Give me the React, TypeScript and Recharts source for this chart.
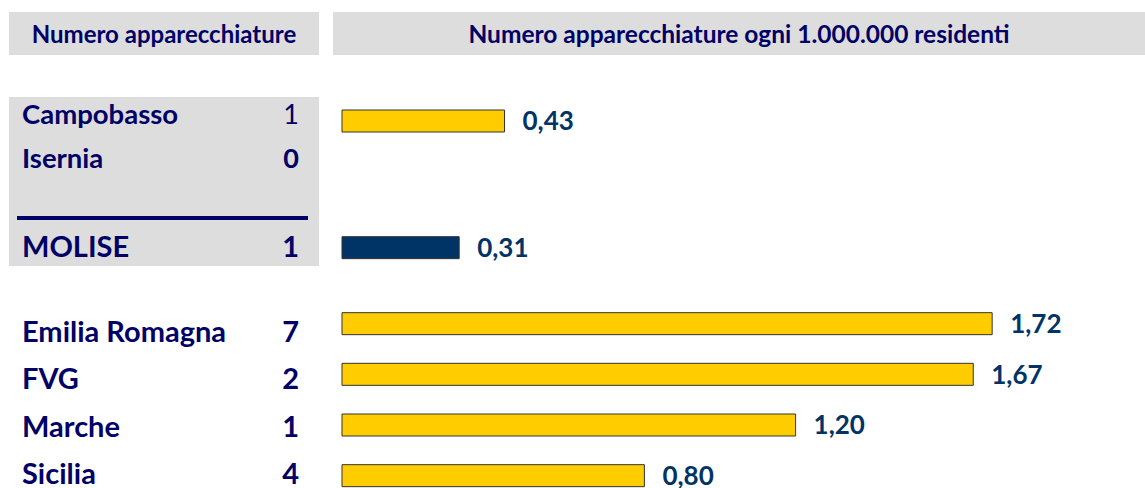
import { Bar, BarChart, Cell, LabelList, XAxis, YAxis } from "recharts"

// left table: regions and number of devices
const regions = ["Campobasso", "Isernia", "MOLISE", "Emilia Romagna", "FVG", "Marche", "Sicilia"]
const deviceCounts = [1, 0, 1, 7, 2, 1, 4]
// right chart: devices per 1,000,000 residents
const perMillion = [0.43, null, 0.31, 1.72, 1.67, 1.2, 0.8]
// order of the chart rows, "" = empty spacer row
const barRows = [
  "Campobasso", "", "Isernia", "", "", "MOLISE", "", "",
  "Emilia Romagna", "", "FVG", "", "Marche", "", "Sicilia",
]

const chartData = barRows.map((name, i) => ({
  key: String(i),
  name,
  value: name ? perMillion[regions.indexOf(name)] : null,
}))

const FONT = "Lato, 'Open Sans', sans-serif"
const NAVY = "#000066"
const BLUE = "#003366"
const GRAY = "#dddddd"

const labelTop = [113, 157, 245, 330, 377, 425, 472]

const fmt = (v: unknown) => (typeof v === "number" ? v.toFixed(2).replace(".", ",") : "")

export default function App() {
  return (
    <div
      style={{
        position: "absolute",
        left: 0,
        top: 0,
        width: 1145,
        height: 488,
        overflow: "hidden",
        background: "#fff",
        fontFamily: FONT,
      }}
    >
      {/* headers */}
      <div
        style={{
          position: "absolute", left: 9, top: 12, width: 310, height: 43,
          background: GRAY, color: NAVY, fontWeight: 700, fontSize: 24,
          display: "flex", alignItems: "center", justifyContent: "center",
        }}
      >
        Numero apparecchiature
      </div>
      <div
        style={{
          position: "absolute", left: 333, top: 12, width: 812, height: 43,
          background: GRAY, color: NAVY, fontWeight: 700, fontSize: 24.5,
          display: "flex", alignItems: "center", justifyContent: "center",
        }}
      >
        Numero apparecchiature ogni 1.000.000 residenti
      </div>

      {/* gray box for the province rows */}
      <div style={{ position: "absolute", left: 9, top: 97, width: 310, height: 169, background: GRAY }} />
      <div style={{ position: "absolute", left: 17, top: 216, width: 291, height: 4, background: NAVY }} />

      {regions.map((r, i) => (
        <div key={r}>
          <div
            style={{
              position: "absolute", left: 22, top: labelTop[i], transform: "translateY(-50%)",
              color: NAVY, fontWeight: 700, fontSize: i < 2 ? 27.5 : 29, whiteSpace: "nowrap",
            }}
          >
            {r}
          </div>
          <div
            style={{
              position: "absolute", right: 1145 - 299, top: labelTop[i], transform: "translateY(-50%)",
              color: NAVY, fontWeight: i === 0 ? 400 : 700, fontSize: i < 2 ? 27 : 29,
            }}
          >
            {deviceCounts[i]}
          </div>
        </div>
      ))}

      <div style={{ position: "absolute", left: 0, top: 0 }}>
        <BarChart
          width={1145}
          height={500}
          layout="vertical"
          data={chartData}
          margin={{ top: 108, right: 47, bottom: 12, left: 342 }}
        >
          <XAxis type="number" domain={[0, 2]} hide />
          <YAxis type="category" dataKey="key" hide />
          <Bar dataKey="value" barSize={22} stroke="#333333" strokeWidth={1} isAnimationActive={false}>
            {chartData.map((d) => (
              <Cell key={d.key} fill={d.name === "MOLISE" ? BLUE : "#ffcc00"} />
            ))}
            <LabelList
              dataKey="value"
              position="right"
              offset={18}
              formatter={fmt}
              fill={BLUE}
              fontSize={26}
              fontWeight={700}
              fontFamily={FONT}
            />
          </Bar>
        </BarChart>
      </div>
    </div>
  )
}
